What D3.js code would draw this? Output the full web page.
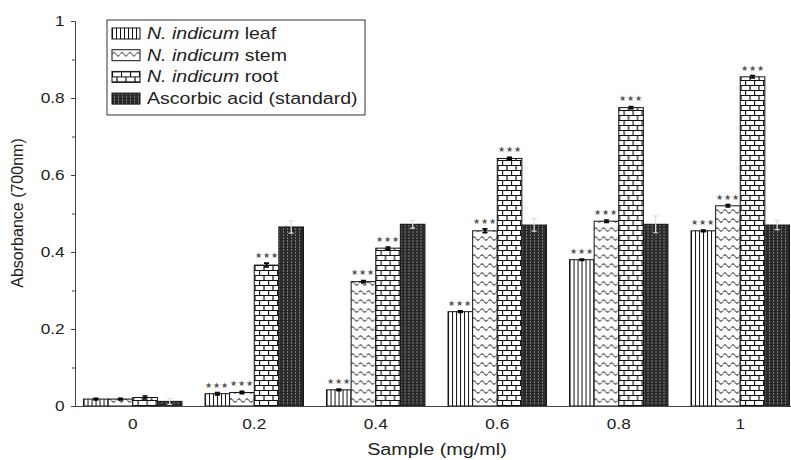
<!DOCTYPE html>
<html>
<head>
<meta charset="utf-8">
<script src="https://cdn.jsdelivr.net/npm/d3@7"></script>
<style>
  body { margin: 0; background: #fff; }
  text { font-family: "Liberation Sans", Arial, sans-serif; fill: #222; }
</style>
</head>
<body>
<svg id="chart" width="791" height="460"></svg>
<script>
// data
var categories = ["0", "0.2", "0.4", "0.6", "0.8", "1"];
var seriesNames = ["N. indicum leaf", "N. indicum stem", "N. indicum root", "Ascorbic acid (standard)"];
var leaf     = [0.018, 0.032, 0.042, 0.245, 0.380, 0.455];
var stem     = [0.018, 0.035, 0.323, 0.455, 0.480, 0.520];
var root     = [0.022, 0.366, 0.410, 0.643, 0.775, 0.855];
var ascorbic = [0.012, 0.465, 0.472, 0.470, 0.472, 0.470];
var leafErr  = [0.002, 0.003, 0.002, 0.002, 0.002, 0.002];
var stemErr  = [0.002, 0.003, 0.003, 0.005, 0.003, 0.003];
var rootErr  = [0.004, 0.005, 0.003, 0.003, 0.003, 0.003];
var ascErr   = [0.008, 0.016, 0.010, 0.016, 0.022, 0.012];
var signif   = [false, true, true, true, true, true]; // *** on leaf/stem/root
var yTicks   = [0, 0.2, 0.4, 0.6, 0.8, 1];
var yMinor   = [0.1, 0.3, 0.5, 0.7, 0.9];

var values = [leaf, stem, root, ascorbic];
var errs = [leafErr, stemErr, rootErr, ascErr];
var keys = ["leaf", "stem", "root", "asc"];

var svg = d3.select("#chart");
var stretch = "scale(1.15,1)";

var x0 = d3.scaleBand()
    .domain(categories)
    .range([72, 801])
    .paddingInner(0.19)
    .paddingOuter(0.095);

var x1 = d3.scaleBand()
    .domain(keys)
    .range([0, x0.bandwidth()]);

var y = d3.scaleLinear()
    .domain([0, 1])
    .range([406, 21]);

// fill patterns
var defs = svg.append("defs");

var pLeaf = defs.append("pattern").attr("id", "p-leaf")
    .attr("patternUnits", "userSpaceOnUse").attr("width", 4).attr("height", 4);
pLeaf.append("rect").attr("width", 4).attr("height", 4).attr("fill", "#fff");
pLeaf.append("line").attr("x1", 0.5).attr("x2", 0.5).attr("y1", 0).attr("y2", 4)
    .attr("stroke", "#111").attr("stroke-width", 1);

var pStem = defs.append("pattern").attr("id", "p-stem")
    .attr("patternUnits", "userSpaceOnUse").attr("width", 8).attr("height", 9);
pStem.append("rect").attr("width", 8).attr("height", 9).attr("fill", "#fff");
pStem.append("path").attr("d", "M0,4.5 Q2,1 4,4.5 Q6,8 8,4.5")
    .attr("fill", "none").attr("stroke", "#222").attr("stroke-width", 1);

var pRoot = defs.append("pattern").attr("id", "p-root")
    .attr("patternUnits", "userSpaceOnUse").attr("width", 9).attr("height", 10);
pRoot.append("rect").attr("width", 9).attr("height", 10).attr("fill", "#fff");
pRoot.append("path")
    .attr("d", "M0,0.5H9M0,5.5H9M0.5,0V5M5,5V10")
    .attr("fill", "none").attr("stroke", "#111").attr("stroke-width", 1.2);

var pAsc = defs.append("pattern").attr("id", "p-asc")
    .attr("patternUnits", "userSpaceOnUse").attr("width", 4).attr("height", 3);
pAsc.append("rect").attr("width", 4).attr("height", 3).attr("fill", "#2a2a2a");
pAsc.append("rect").attr("x", 2).attr("y", 0).attr("width", 1).attr("height", 2).attr("fill", "#7a7a7a");

var fills = {leaf: "url(#p-leaf)", stem: "url(#p-stem)", root: "url(#p-root)", asc: "url(#p-asc)"};

// bars
var rows = categories.map(function(c, i) {
    return {cat: c, i: i, bars: keys.map(function(k, j) {
        return {key: k, value: values[j][i], err: errs[j][i], star: j < 3 && signif[i]};
    })};
});

var groups = svg.selectAll(".grp")
    .data(rows)
    .enter().append("g")
    .attr("class", "grp")
    .attr("transform", function(d) { return "translate(" + x0(d.cat) + ",0)"; });

var bar = groups.selectAll(".bar")
    .data(function(d) { return d.bars; })
    .enter().append("g").attr("class", "bar");

bar.append("rect")
    .attr("x", function(d) { return x1(d.key); })
    .attr("y", function(d) { return y(d.value); })
    .attr("width", x1.bandwidth())
    .attr("height", function(d) { return y(0) - y(d.value); })
    .attr("fill", function(d) { return fills[d.key]; })
    .attr("stroke", "#111")
    .attr("stroke-width", 1);

// error bars
bar.append("path")
    .attr("d", function(d) {
        var cx = x1(d.key) + x1.bandwidth() / 2;
        var t = y(d.value + d.err), b = y(d.value - d.err);
        return "M" + cx + "," + t + "V" + b +
               "M" + (cx - 2.5) + "," + t + "H" + (cx + 2.5) +
               "M" + (cx - 2.5) + "," + b + "H" + (cx + 2.5);
    })
    .attr("fill", "none")
    .attr("stroke", function(d) { return d.key == "asc" ? "#ddd" : "#000"; })
    .attr("stroke-width", function(d) { return d.key == "asc" ? 1.2 : 1.6; });

bar.filter(function(d) { return d.star; })
    .append("text")
    .attr("x", function(d) { return x1(d.key) + x1.bandwidth() / 2; })
    .attr("y", function(d) { return y(d.value + d.err) - 5; })
    .attr("text-anchor", "middle")
    .attr("font-family", "DejaVu Sans")
    .attr("font-size", 8)
    .attr("letter-spacing", 1)
    .style("fill", "#555")
    .text("★★★");

// axes
var yAxis = svg.append("g")
    .attr("transform", "translate(75,0)")
    .call(d3.axisLeft(y).tickValues(yTicks).tickSize(4).tickPadding(5)
        .tickFormat(function(d) { return d; }));
yAxis.selectAll("text").attr("font-size", 15).attr("transform", stretch);

svg.append("g")
    .attr("transform", "translate(75,0)")
    .call(d3.axisLeft(y).tickValues(yMinor).tickSize(3).tickFormat(""))
    .select(".domain").remove();

var xAxis = svg.append("g")
    .attr("transform", "translate(0,406)")
    .call(d3.axisBottom(x0).tickSize(0).tickPadding(12));
xAxis.select(".domain").attr("d", "M75,0.5H791");
xAxis.selectAll("text").attr("font-size", 15).attr("transform", stretch);

svg.selectAll(".domain, .tick line").attr("stroke", "#444");

svg.append("text")
    .attr("transform", "translate(23,213) rotate(-90)")
    .attr("text-anchor", "middle")
    .attr("font-size", 16)
    .text("Absorbance (700nm)");

svg.append("text")
    .attr("transform", "translate(437,455) scale(1.2,1)")
    .attr("text-anchor", "middle")
    .attr("font-size", 16.5)
    .text("Sample (mg/ml)");

// legend
var legend = svg.append("g").attr("transform", "translate(107,20)");
legend.append("rect")
    .attr("width", 258).attr("height", 95)
    .attr("fill", "#fff").attr("stroke", "#333").attr("stroke-width", 1);

var item = legend.selectAll(".item")
    .data(keys)
    .enter().append("g")
    .attr("class", "item")
    .attr("transform", function(d, i) { return "translate(5," + (8 + i * 21.7) + ")"; });

item.append("rect")
    .attr("width", 28).attr("height", 11)
    .attr("fill", function(d) { return fills[d]; })
    .attr("stroke", "#111");

var lt = item.append("text")
    .attr("transform", "translate(35,11) scale(1.15,1)")
    .attr("font-size", 17);
lt.filter(function(d, i) { return i < 3; })
    .append("tspan").attr("font-style", "italic")
    .text(function(d, i) { return seriesNames[i].slice(0, 10); });
lt.append("tspan")
    .text(function(d, i) { return i < 3 ? seriesNames[i].slice(10) : seriesNames[i]; });
</script>
</body>
</html>
